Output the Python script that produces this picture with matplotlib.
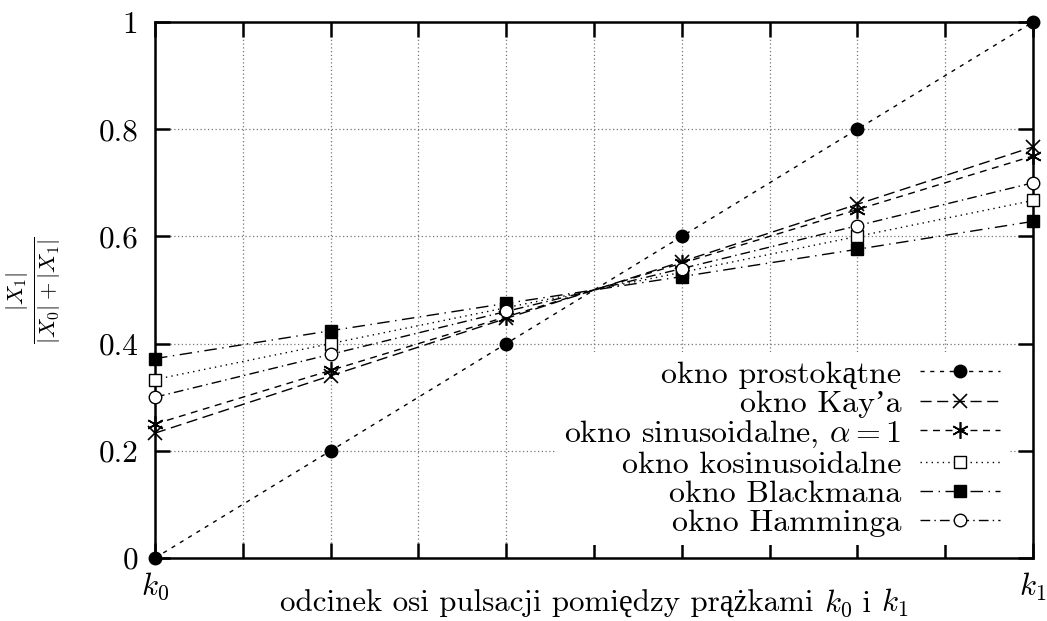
import matplotlib
matplotlib.use("Agg")
import matplotlib.pyplot as plt
from matplotlib.offsetbox import TextArea, HPacker, AnchoredOffsetbox

FAM = ['cmr10', 'Liberation Serif', 'DejaVu Serif']
plt.rcParams['font.family'] = FAM
plt.rcParams['mathtext.fontset'] = 'cm'
plt.rcParams['axes.formatter.use_mathtext'] = True
plt.rcParams['font.size'] = 22

x = [0.0, 0.2, 0.4, 0.6, 0.8, 1.0]
prostokatne = [0.0, 0.2, 0.4, 0.6, 0.8, 1.0]
kay = [0.233, 0.340, 0.447, 0.553, 0.660, 0.767]
sinusoidalne = [0.250, 0.350, 0.450, 0.550, 0.650, 0.750]
kosinusoidalne = [0.333, 0.400, 0.467, 0.533, 0.600, 0.667]
blackman = [0.372, 0.424, 0.475, 0.525, 0.576, 0.628]
hamming = [0.300, 0.380, 0.460, 0.540, 0.620, 0.700]

labels = ['okno prostokątne', "okno Kay’a", r'okno sinusoidalne, $\alpha = 1$',
          'okno kosinusoidalne', 'okno Blackmana', 'okno Hamminga']
series = [prostokatne, kay, sinusoidalne, kosinusoidalne, blackman, hamming]

y_ticks = [0, 0.2, 0.4, 0.6, 0.8, 1.0]
y_ticklabels = ['0', '0.2', '0.4', '0.6', '0.8', '1']
x_ticks = [0.0, 0.1, 0.2, 0.3, 0.4, 0.5, 0.6, 0.7, 0.8, 0.9, 1.0]
x_ticklabels = ['$k_0$'] + [''] * 9 + ['$k_1$']
xlabel_parts = ['odcinek osi pulsacji pomiędzy prążkami ', '$k_0$', ' i ', '$k_1$']
ylabel_text = r'$\frac{|X_1|}{|X_0|+|X_1|}$'

styles = [
    dict(linestyle=(0, (3, 4)), marker='o', mfc='black', ms=9),
    dict(linestyle=(0, (8, 4)), marker='x', mfc='none', ms=10, mew=1.2),
    dict(linestyle=(0, (5, 4)), marker=(6, 2, 0), mfc='none', ms=12, mew=1.2),
    dict(linestyle=(0, (1, 3)), marker='s', mfc='white', ms=9, mew=1.0),
    dict(linestyle=(0, (9, 4, 1, 4)), marker='s', mfc='black', ms=9),
    dict(linestyle=(0, (7, 3, 1, 3)), marker='o', mfc='white', ms=9, mew=1.0),
]

fig = plt.figure(figsize=(10.47, 6.21), dpi=100)
ax = fig.add_axes([155/1047, 1 - 558/621, (1033-155)/1047, (558-22)/621])

for s, lab, st in zip(series, labels, styles):
    ax.plot(x, s, color='black', linewidth=1.0, mec='black', label=lab,
            clip_on=False, zorder=3, **st)

ax.set_xlim(0, 1)
ax.set_ylim(0, 1)
ax.set_xticks(x_ticks)
ax.set_xticklabels(x_ticklabels)
ax.set_yticks(y_ticks)
ax.set_yticklabels(y_ticklabels)
ax.tick_params(direction='in', length=11, width=1.8, top=True, right=True,
               labelsize=22.5)
ax.tick_params(axis='x', pad=9)
ax.tick_params(axis='y', pad=12)
for sp in ax.spines.values():
    sp.set_linewidth(1.8)
ax.grid(True, linestyle=(0, (1, 2)), color='#777777', linewidth=0.9)
ax.set_axisbelow(True)

ax.set_ylabel(ylabel_text, fontsize=23)
ax.yaxis.label.set_va('center')
ax.yaxis.set_label_coords(-0.139, 0.5)

tp = dict(fontsize=22.3, family=FAM)
box = HPacker(children=[TextArea(p, textprops=tp) for p in xlabel_parts],
              align='baseline', pad=0, sep=0)
anch = AnchoredOffsetbox(loc='center', child=box, frameon=False, pad=0, borderpad=0,
                         bbox_to_anchor=(594/1047, 1 - 603/621),
                         bbox_transform=fig.transFigure)
fig.add_artist(anch)

leg = ax.legend(loc='lower right', bbox_to_anchor=(0.99, -0.005), markerfirst=False,
                handlelength=2.5, labelspacing=0.02, borderpad=0.25,
                handletextpad=0.6, frameon=True, fancybox=False,
                framealpha=1.0, fontsize=23)
leg.get_frame().set_edgecolor('none')
leg.get_frame().set_facecolor('white')

fig.savefig('out.png', dpi=100)
